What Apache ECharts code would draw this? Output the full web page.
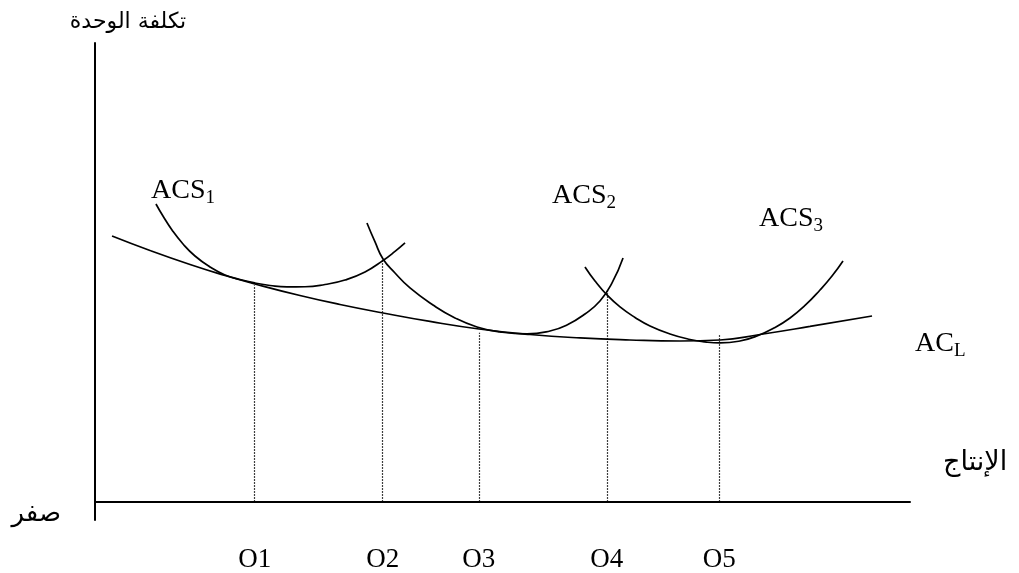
<!DOCTYPE html>
<html>
<head>
<meta charset="utf-8">
<script src="https://cdn.jsdelivr.net/npm/echarts@6/dist/echarts.min.js"></script>
<style>
  html, body { margin: 0; padding: 0; background: #ffffff; }
  #chart { width: 1019px; height: 573px; }
</style>
</head>
<body>
<div id="chart"></div>
<script>
// Output levels on the quantity axis and the unit cost where each dotted drop line begins
const outputNames = ['O1', 'O2', 'O3', 'O4', 'O5'];
const outputLevels = [19.6, 35.3, 47.1, 62.8, 76.6];
const dropTops = [47.2, 52.7, 36.8, 46.2, 36.6];

// Long-run average cost: the envelope of the short-run curves
const acLong = [
  [2.09, 57.92], [6.75, 54.76], [11.66, 51.71], [15.95, 49.31], [19.63, 47.46],
  [25.15, 44.95], [30.06, 42.99], [35.34, 41.14], [41.10, 39.29], [47.12, 37.65],
  [53.37, 36.45], [59.51, 35.69], [65.64, 35.25], [71.78, 35.03], [76.69, 35.25],
  [81.60, 36.45], [87.73, 38.20], [95.34, 40.48]
];

// Short-run average cost curves for three plant sizes
const acs1 = [
  [7.48, 64.90], [8.34, 62.28], [9.45, 59.23], [10.80, 56.18], [12.27, 53.56],
  [14.11, 51.17], [15.95, 49.42], [17.79, 48.44], [19.63, 47.68], [21.47, 47.13],
  [23.56, 46.81], [25.77, 46.85], [28.22, 47.35], [30.67, 48.33], [33.13, 50.08],
  [35.34, 52.58], [36.81, 54.55], [38.04, 56.40]
];
const acs2 = [
  [33.37, 60.76], [34.36, 56.62], [35.34, 52.91], [36.81, 49.86], [38.65, 46.59],
  [41.47, 42.88], [44.17, 40.05], [46.87, 38.09], [49.69, 37.00], [53.01, 36.56],
  [55.83, 37.21], [57.91, 38.52], [60.12, 40.92], [61.96, 43.75], [63.44, 47.68],
  [64.79, 53.13]
];
const acs3 = [
  [60.12, 51.17], [61.35, 48.11], [62.82, 45.06], [64.42, 42.45], [66.26, 40.16],
  [68.10, 38.30], [70.55, 36.56], [73.01, 35.36], [74.85, 34.82], [76.69, 34.60],
  [79.14, 35.03], [81.23, 36.12], [83.44, 37.98], [85.28, 40.05], [87.12, 42.77],
  [88.96, 46.15], [90.43, 49.20], [91.78, 52.48]
];

// Axis titles and the origin mark
const yAxisTitle = 'تكلفة الوحدة';
const xAxisTitle = 'الإنتاج';
const originLabel = 'صفر';

// Curve names (base + subscript) and where each name sits, in axis units
const curveTags = [
  { base: 'ACS', sub: '1', at: [10.8, 67.5] },
  { base: 'ACS', sub: '2', at: [60.0, 66.4] },
  { base: 'ACS', sub: '3', at: [85.4, 61.4] }
];
const longRunTag = { base: 'AC', sub: 'L' };

const INK = '#000000';
const serif = 'Liberation Serif, Times New Roman, serif';
const arabic = 'DejaVu Sans, Arial, sans-serif';

const tagRich = {
  a: { fontFamily: serif, fontSize: 28, color: INK, verticalAlign: 'bottom', padding: [0, 0, 3, 0] },
  b: { fontFamily: serif, fontSize: 19, color: INK, verticalAlign: 'bottom' }
};
const tagText = t => '{a|' + t.base + '}{b|' + t.sub + '}';

function tagPoint(t) {
  return {
    coord: t.at,
    symbol: 'circle',
    symbolSize: 0,
    itemStyle: { color: 'transparent' },
    label: { show: true, position: 'inside', formatter: tagText(t), rich: tagRich }
  };
}

function costCurve(name, data, extra) {
  return Object.assign({
    name: name,
    type: 'line',
    data: data,
    smooth: 0.5,
    symbol: 'none',
    silent: true,
    clip: false,
    lineStyle: { color: INK, width: 1.7 }
  }, extra || {});
}

const drops = outputLevels.map((x, i) => [
  { coord: [x, 0] },
  { coord: [x, dropTops[i]] }
]);

const chart = echarts.init(document.getElementById('chart'), null, { renderer: 'canvas' });

chart.setOption({
  animation: false,
  backgroundColor: '#ffffff',
  grid: { left: 95, right: 109, top: 43, bottom: 53, containLabel: false, outerBoundsMode: 'none' },
  xAxis: {
    type: 'value',
    min: 0,
    max: 100,
    name: xAxisTitle,
    nameLocation: 'end',
    nameGap: 33,
    nameTextStyle: {
      fontFamily: arabic, fontSize: 27, color: INK,
      align: 'left', verticalAlign: 'bottom', padding: [0, 0, 25, 0]
    },
    axisLine: { show: true, onZero: true, lineStyle: { color: INK, width: 2 } },
    axisTick: { show: false },
    splitLine: { show: false },
    axisLabel: {
      show: true,
      customValues: outputLevels,
      margin: 26,
      fontFamily: serif,
      fontSize: 27,
      color: INK,
      formatter: v => outputNames[outputLevels.indexOf(v)] || ''
    }
  },
  yAxis: {
    type: 'value',
    min: -4,
    max: 100,
    name: yAxisTitle,
    nameLocation: 'end',
    nameGap: 10,
    nameTextStyle: {
      fontFamily: arabic, fontSize: 22, color: INK,
      padding: [0, 0, 0, 66]
    },
    axisLine: { show: true, onZero: false, lineStyle: { color: INK, width: 2 } },
    axisTick: { show: false },
    splitLine: { show: false },
    axisLabel: {
      show: true,
      customValues: [0],
      margin: 34,
      fontFamily: arabic,
      fontSize: 26,
      lineHeight: 26,
      color: INK,
      verticalAlign: 'top',
      formatter: () => originLabel
    }
  },
  series: [
    costCurve('AC_L', acLong, {
      endLabel: {
        show: true,
        distance: 0,
        offset: [43, 29],
        formatter: tagText(longRunTag),
        rich: tagRich
      },
      markLine: {
        silent: true,
        symbol: ['none', 'none'],
        label: { show: false },
        lineStyle: { color: INK, width: 1.2, type: [1.5, 1.5] },
        data: drops
      }
    }),
    costCurve('ACS1', acs1, { markPoint: { silent: true, data: [tagPoint(curveTags[0])] } }),
    costCurve('ACS2', acs2, { markPoint: { silent: true, data: [tagPoint(curveTags[1])] } }),
    costCurve('ACS3', acs3, { markPoint: { silent: true, data: [tagPoint(curveTags[2])] } })
  ]
});
</script>
</body>
</html>
